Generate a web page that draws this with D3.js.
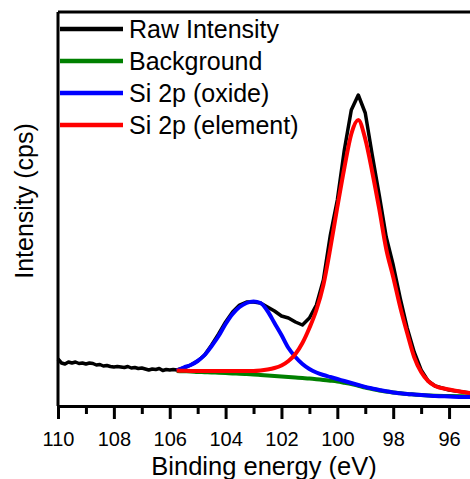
<!DOCTYPE html>
<html>
<head>
<meta charset="utf-8">
<script src="https://cdn.jsdelivr.net/npm/d3@7"></script>
<style>
	body { margin: 0; background: #fff; }
	svg { display: block; font-family: "Liberation Sans", Arial, sans-serif; }
</style>
</head>
<body>
<div id="chart"></div>
<script>
// raw spectrum: binding energy (eV) and counts
var rawEnergy = [110.0, 109.875, 109.75, 109.625, 109.5, 109.375, 109.25, 109.125, 109.0, 108.875, 108.75, 108.625, 108.5, 108.375, 108.25, 108.125, 108.0, 107.875, 107.75, 107.625, 107.5, 107.375, 107.25, 107.125, 107.0, 106.875, 106.75, 106.625, 106.5, 106.375, 106.25, 106.125, 106.0, 105.875, 105.75,
	105.5, 105.25, 105.0, 104.75, 104.5, 104.25, 104.0, 103.75, 103.5, 103.25, 103.0, 102.75, 102.5, 102.25, 102.0, 101.75, 101.5, 101.25, 101.0, 100.75, 100.5, 100.25, 100.0, 99.75, 99.5, 99.25, 99.0, 98.75, 98.5, 98.25, 98.0, 97.75, 97.5, 97.25, 97.0, 96.75, 96.5, 96.25, 96.0, 95.75, 95.5, 95.25];
var rawCounts = [470, 430, 420, 440, 430, 440, 425, 430, 420, 430, 425, 410, 415, 400, 405, 395, 390, 395, 390, 385, 395, 380, 385, 375, 380, 370, 360, 370, 365, 375, 355, 365, 360, 365, 360,
	380, 410, 450, 510, 610, 720, 840, 940, 1010, 1040, 1040, 1030, 990, 950, 900, 880, 840, 810, 880, 1010, 1260, 1710, 2060, 2560, 2960, 3110, 2930, 2510, 2110, 1690, 1410, 1080, 780, 540, 360, 250, 200, 180, 160, 150, 140, 130];

// fitted components share one energy grid
var fitEnergy = [105.75, 105.5, 105.25, 105.0, 104.75, 104.5, 104.25, 104.0, 103.75, 103.5, 103.25, 103.0, 102.75, 102.5, 102.25, 102.0, 101.75, 101.5, 101.25, 101.0, 100.75, 100.5, 100.25, 100.0, 99.75, 99.5, 99.25, 99.0, 98.75, 98.5, 98.25, 98.0, 97.75, 97.5, 97.25, 97.0, 96.75, 96.5, 96.0, 95.5, 95.25];
var background = [350, 347, 345, 340, 338, 335, 333, 330, 326, 323, 319, 315, 310, 305, 300, 295, 290, 285, 280, 275, 268, 260, 253, 245, 233, 220, 203, 185, 170, 155, 145, 135, 127, 120, 115, 110, 106, 103, 100, 97, 95];
var oxide = [355, 385, 410, 450, 510, 600, 700, 820, 920, 990, 1030, 1045, 1030, 950, 830, 710, 580, 490, 420, 370, 335, 310, 290, 270, 250, 230, 210, 190, 175, 160, 147, 135, 127, 120, 115, 110, 105, 100, 95, 90, 90];
var element = [355, 352, 350, 350, 350, 350, 350, 350, 350, 350, 350, 350, 355, 365, 380, 405, 450, 520, 630, 780, 960, 1210, 1580, 1990, 2380, 2720, 2860, 2670, 2340, 1970, 1570, 1290, 990, 730, 490, 340, 250, 200, 165, 140, 130];

var majorTicks = [110, 108, 106, 104, 102, 100, 98, 96];
var minorTicks = [109, 107, 105, 103, 101, 99, 97, 95];

var legendNames = ["Raw Intensity", "Background", "Si 2p (oxide)", "Si 2p (element)"];
var legendColors = ["#000000", "#008000", "#0000ff", "#ff0000"];

function Chart(options){
	var width = options.width || 470;
	var height = options.height || 479;
	var m = { left: 58, top: 12, right: 477, bottom: 406 };

	this.root = d3.select(options.bindto).append("svg")
		.attr("width", width)
		.attr("height", height);

	this.x = d3.scaleLinear().domain([110, 95]).range([m.left, m.right]);
	this.y = d3.scaleLinear().domain([0, 3940]).range([m.bottom, m.top]);
	this.m = m;

	this.drawSeries();
	this.drawFrame();
	this.drawAxis();
	this.drawLegend();
}

Chart.prototype.drawSeries = function(){
	var x = this.x, y = this.y;
	var plot = this.root.append("g");

	var raw = rawEnergy.map(function(e, i){ return [e, rawCounts[i]]; });
	plot.append("path")
		.datum(raw)
		.attr("fill", "none")
		.attr("stroke", legendColors[0])
		.attr("stroke-width", 3.5)
		.attr("stroke-linejoin", "round")
		.attr("d", d3.line()
			.x(function(d){ return x(d[0]); })
			.y(function(d){ return y(d[1]); }));

	var fits = [background, oxide, element];
	var line = d3.line()
		.curve(d3.curveMonotoneX)
		.x(function(d){ return x(d[0]); })
		.y(function(d){ return y(d[1]); });

	fits.forEach(function(values, k){
		plot.append("path")
			.datum(fitEnergy.map(function(e, i){ return [e, values[i]]; }))
			.attr("fill", "none")
			.attr("stroke", legendColors[k + 1])
			.attr("stroke-width", 4)
			.attr("stroke-linejoin", "round")
			.attr("d", line);
	});
}

Chart.prototype.drawFrame = function(){
	var m = this.m;
	var frame = this.root.append("g")
		.attr("fill", "none")
		.attr("stroke", "#000")
		.attr("stroke-width", 3);

	frame.append("line").attr("x1", m.left).attr("x2", m.left).attr("y1", m.top).attr("y2", m.bottom);
	frame.append("line").attr("x1", m.left).attr("x2", m.right).attr("y1", m.top).attr("y2", m.top);
	frame.append("line").attr("x1", m.right).attr("x2", m.right).attr("y1", m.top).attr("y2", m.bottom);
}

Chart.prototype.drawAxis = function(){
	var m = this.m;

	var minor = this.root.append("g")
		.attr("transform", "translate(0," + m.bottom + ")")
		.call(d3.axisBottom(this.x).tickValues(minorTicks).tickSize(8).tickFormat(""));
	minor.select(".domain").remove();
	minor.selectAll(".tick line").attr("stroke-width", 3);

	var major = this.root.append("g")
		.attr("transform", "translate(0," + m.bottom + ")")
		.call(d3.axisBottom(this.x).tickValues(majorTicks).tickSize(13).tickSizeOuter(0).tickFormat(d3.format("d")));
	major.select(".domain").attr("stroke-width", 3);
	major.selectAll(".tick line").attr("stroke-width", 3);
	major.selectAll(".tick text")
		.attr("y", 40)
		.attr("dy", null)
		.attr("fill", "#000")
		.style("font-size", "20px")
		.style("font-family", "'Liberation Sans', Arial, sans-serif");

	this.root.append("text")
		.attr("x", (58 + 470) / 2)
		.attr("y", 475)
		.attr("text-anchor", "middle")
		.style("font-size", "25.5px")
		.text("Binding energy (eV)");

	this.root.append("text")
		.attr("transform", "translate(33,201) rotate(-90)")
		.attr("text-anchor", "middle")
		.style("font-size", "25px")
		.text("Intensity (cps)");
}

Chart.prototype.drawLegend = function(){
	var items = this.root.append("g")
			.selectAll("g")
			.data(legendNames)
		.enter().append("g")
			.attr("transform", function(d, i){ return "translate(60," + (29 + i * 32) + ")"; });

	items.append("line")
		.attr("x1", 0)
		.attr("x2", 63)
		.attr("stroke", function(d, i){ return legendColors[i]; })
		.attr("stroke-width", 4.5);

	items.append("text")
		.attr("x", 69)
		.attr("y", 8.5)
		.style("font-size", "25px")
		.text(function(d){ return d; });
}

new Chart({ bindto: "#chart", width: 470, height: 479 });
</script>
</body>
</html>
